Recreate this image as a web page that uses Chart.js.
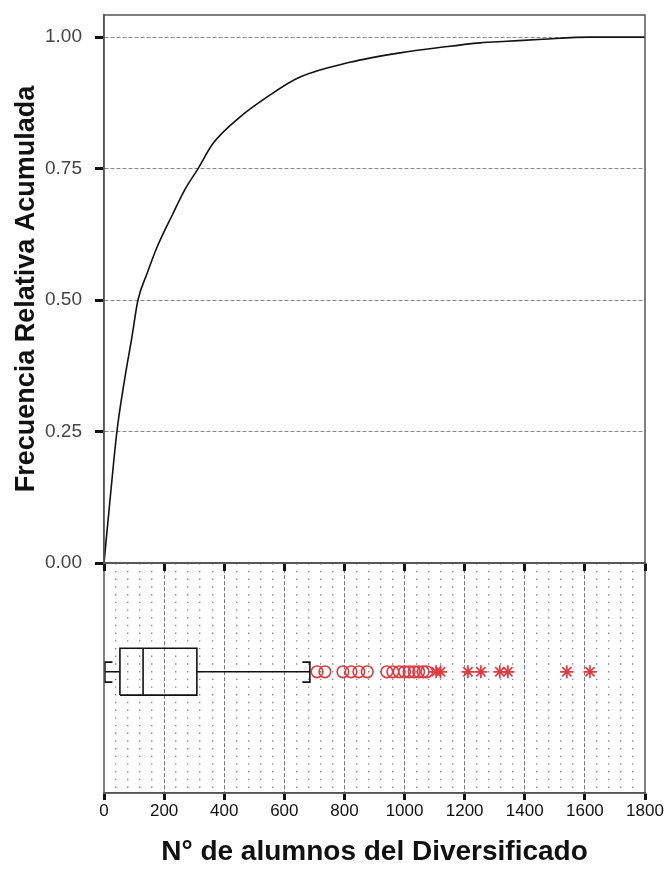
<!DOCTYPE html>
<html>
<head>
<meta charset="utf-8">
<script src="https://cdn.jsdelivr.net/npm/chart.js@4.4.1/dist/chart.umd.min.js"></script>
<style>
  html, body { margin:0; padding:0; background:#fff; }
  #wrap { position:relative; width:666px; height:870px; overflow:hidden; }
  #cdf { position:absolute; left:0; top:0; z-index:2; }
  #box { position:absolute; left:0; top:555px; z-index:1; }
</style>
</head>
<body>
<div id="wrap">
  <canvas id="cdf" width="666" height="583"></canvas>
  <canvas id="box" width="666" height="315"></canvas>
</div>
<script>
// cumulative relative frequency curve
const cumX = [0, 20, 43, 70, 93, 113, 143, 176, 230, 269, 313, 363, 452, 542, 652, 818, 985, 1128, 1251, 1340, 1460, 1617, 1800];
const cumY = [0, 0.12, 0.25, 0.354, 0.43, 0.5, 0.55, 0.6, 0.665, 0.71, 0.75, 0.798, 0.848, 0.886, 0.924, 0.952, 0.97, 0.981, 0.989, 0.992, 0.996, 1.0, 1.0];

// box plot: lower whisker, Q1, median, Q3, upper whisker
const boxFive = [3, 53, 130, 309, 685];
const mildOutliers = [709, 735, 795, 822, 848, 876, 941, 961, 982, 1000, 1015, 1032, 1047, 1062, 1074];
const extremeOutliers = [1105, 1120, 1211, 1254, 1317, 1344, 1540, 1617];

const xTicks = [0, 200, 400, 600, 800, 1000, 1200, 1400, 1600, 1800];
const yTicks = [0, 0.25, 0.5, 0.75, 1.0];

const yTitle = 'Frecuencia Relativa Acumulada';
const xTitle = 'N° de alumnos del Diversificado';

// --- styling constants (box panel is -1..1 tall) ---
const BOX_TOP = 0.26, BOX_BOT = -0.148, MID = 0.055;
const CAP_TOP = 0.139, CAP_BOT = -0.035, CAP_ARM = 25;
const FONT = '"Liberation Sans", Arial, sans-serif';
const RED = '#e23a40';

// frame around the plotting area
const framePlugin = {
  id: 'frame',
  afterDraw(chart){
    const a = chart.chartArea, ctx = chart.ctx;
    ctx.save();
    ctx.strokeStyle = '#555';
    ctx.lineWidth = 1.5;
    ctx.strokeRect(a.left, a.top, a.right - a.left, a.bottom - a.top);
    ctx.restore();
  }
};

// --- top: cumulative curve ---
new Chart(document.getElementById('cdf'), {
  type: 'scatter',
  data: {
    datasets: [{
      data: cumX.map((x,i)=>({x, y: cumY[i]})),
      showLine: true,
      borderColor: '#111',
      borderWidth: 1.6,
      pointRadius: 0,
      cubicInterpolationMode: 'monotone'
    }]
  },
  options: {
    responsive: false,
    devicePixelRatio: 1,
    animation: false,
    layout: { padding: { top: 15, right: 21, left: 0, bottom: 0 } },
    plugins: { legend: { display:false }, tooltip: { enabled:false } },
    scales: {
      x: {
        type: 'linear', min: 0, max: 1800,
        afterBuildTicks: s => { s.ticks = xTicks.map(v=>({value:v})); },
        afterFit: s => { s.height = 20; s.paddingLeft = 0; s.paddingRight = 0; },
        ticks: { display: false },
        grid: { drawOnChartArea: false, drawTicks: true, tickLength: 8, tickWidth: 3, tickColor: '#111' },
        border: { color: '#555', width: 1.5 }
      },
      y: {
        type: 'linear', min: 0, max: 1.042,
        afterBuildTicks: s => { s.ticks = yTicks.map(v=>({value:v})); },
        afterFit: s => { s.width = 104; s.paddingTop = 0; s.paddingBottom = 0; },
        ticks: {
          padding: 13,
          color: '#444',
          font: { family: FONT, size: 19 },
          callback: v => v.toFixed(2)
        },
        grid: { color: '#888', lineWidth: 1, tickLength: 9, tickWidth: 3, tickColor: '#111' },
        border: { color: '#555', width: 1.5, dash: [4,2] },
        title: {
          display: true, text: yTitle, color: '#111',
          font: { family: FONT, size: 27, weight: 'bold' },
          padding: { top: 10, bottom: 0 }
        }
      }
    }
  },
  plugins: [framePlugin]
});

// --- bottom: box plot ---
const [lo, q1, med, q3, hi] = boxFive;
const blackLine = { showLine: true, borderColor: '#111', borderWidth: 1.6, pointRadius: 0, fill: false, xAxisID: 'x', yAxisID: 'y' };

new Chart(document.getElementById('box'), {
  type: 'scatter',
  data: {
    datasets: [
      Object.assign({ data: [{x:q1,y:BOX_BOT},{x:q3,y:BOX_BOT},{x:q3,y:BOX_TOP},{x:q1,y:BOX_TOP},{x:q1,y:BOX_BOT}] }, blackLine),
      Object.assign({ data: [{x:med,y:BOX_BOT},{x:med,y:BOX_TOP}] }, blackLine),
      Object.assign({ data: [{x:lo,y:MID},{x:q1,y:MID}] }, blackLine),
      Object.assign({ data: [{x:q3,y:MID},{x:hi,y:MID}] }, blackLine),
      Object.assign({ data: [{x:lo+CAP_ARM,y:CAP_TOP},{x:lo,y:CAP_TOP},{x:lo,y:CAP_BOT},{x:lo+CAP_ARM,y:CAP_BOT}] }, blackLine),
      Object.assign({ data: [{x:hi-CAP_ARM,y:CAP_TOP},{x:hi,y:CAP_TOP},{x:hi,y:CAP_BOT},{x:hi-CAP_ARM,y:CAP_BOT}] }, blackLine),
      {
        data: mildOutliers.map(x=>({x, y: MID})),
        pointStyle: 'circle', pointRadius: 5.8, borderWidth: 1.6,
        borderColor: RED, backgroundColor: 'rgba(0,0,0,0)', xAxisID: 'x', yAxisID: 'y'
      },
      {
        data: extremeOutliers.map(x=>({x, y: MID})),
        pointStyle: 'star', pointRadius: 6.5, borderWidth: 1.7,
        borderColor: RED, backgroundColor: RED, xAxisID: 'x', yAxisID: 'y'
      }
    ]
  },
  options: {
    responsive: false,
    devicePixelRatio: 1,
    animation: false,
    layout: { padding: { top: 8, right: 21, left: 104, bottom: 0 } },
    plugins: { legend: { display:false }, tooltip: { enabled:false } },
    scales: {
      x: {
        type: 'linear', min: 0, max: 1800, position: 'bottom',
        afterBuildTicks: s => { s.ticks = xTicks.map(v=>({value:v})); },
        afterFit: s => { s.height = 77; },
        ticks: { padding: 1, color: '#111', font: { family: FONT, size: 17 }, maxRotation: 0, callback: v => String(v) },
        grid: {
          color: ctx => (ctx.tick && (ctx.tick.value === 0 || ctx.tick.value === 1800)) ? 'rgba(0,0,0,0)' : '#777',
          lineWidth: 1, tickLength: 7, tickWidth: 3, tickColor: '#111'
        },
        border: { color: '#555', width: 1.5, dash: [4,2] },
        title: {
          display: true, text: xTitle, color: '#111',
          font: { family: FONT, size: 28, weight: 'bold' },
          padding: { top: 0, bottom: 1 }
        }
      },
      // fine dotted background pattern
      xd: {
        type: 'linear', min: 0, max: 1800, position: 'bottom',
        ticks: { display: false, stepSize: 40 },
        grid: {
          color: ctx => (ctx.tick && Math.round(ctx.tick.value) % 200 === 0) ? 'rgba(0,0,0,0)' : '#8c8c8c',
          lineWidth: 1.4, drawTicks: false
        },
        border: { display: false, dash: [1.4, 6.3] }
      },
      y: { type: 'linear', min: -1, max: 1, display: false }
    }
  },
  plugins: [framePlugin]
});
</script>
</body>
</html>
